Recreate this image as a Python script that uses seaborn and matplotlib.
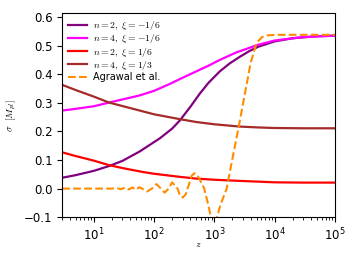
import numpy as np
import pandas as pd
import seaborn as sn
import matplotlib.pyplot as plt

plt.rcParams['mathtext.fontset'] = 'cm'

# 값은 그림에서 읽은 것
z_n2_m16 = [3, 5, 10, 18, 30, 58, 125, 200, 267, 400, 573, 800, 1230, 1800, 2640, 3800, 5300, 1e4, 2e4, 5e4, 1e5]
sig_n2_m16 = [0.038, 0.047, 0.062, 0.079, 0.097, 0.130, 0.176, 0.210, 0.238, 0.286, 0.332, 0.370, 0.410, 0.438, 0.461, 0.481, 0.496, 0.515, 0.526, 0.533, 0.535]

z_n4_m16 = [3, 5, 10, 18, 58, 100, 182, 267, 500, 800, 1230, 2290, 5300, 1e4, 2.9e4, 1e5]
sig_n4_m16 = [0.273, 0.279, 0.288, 0.301, 0.326, 0.342, 0.366, 0.383, 0.410, 0.430, 0.450, 0.476, 0.503, 0.518, 0.530, 0.535]

z_n2_p16 = [3, 5, 10, 18, 35, 66, 100, 247, 500, 1000, 2630, 1e4, 3e4, 1e5]
sig_n2_p16 = [0.127, 0.114, 0.098, 0.082, 0.069, 0.058, 0.052, 0.042, 0.035, 0.031, 0.027, 0.022, 0.021, 0.021]

z_n4_p13 = [3, 5, 10, 18, 58, 100, 267, 500, 1000, 2640, 5300, 1e4, 3e4, 1e5]
sig_n4_p13 = [0.363, 0.345, 0.322, 0.301, 0.273, 0.260, 0.243, 0.233, 0.225, 0.217, 0.214, 0.212, 0.211, 0.211]

z_agr = [3, 10, 20, 24, 28, 33, 38, 44, 50, 57, 66, 77, 92, 110, 130, 150, 175, 200, 245, 270, 300, 335,
         380, 420, 470, 520, 580, 680, 800, 880, 980, 1070, 1250, 1600, 2000, 2540, 3200, 4000, 5000, 6200,
         7300, 1.2e4, 3e4, 1e5]
sig_agr = [0.0, 0.0, 0.0, 0.002, -0.002, 0.003, -0.003, 0.004, -0.004, 0.005, -0.002, -0.010, 0.0, 0.016,
           0.0, -0.014, 0.0, 0.022, 0.0, -0.025, -0.031, -0.020, 0.015, 0.045, 0.054, 0.048, 0.030, 0.0,
           -0.060, -0.100, -0.130, -0.110, -0.060, 0.0, 0.106, 0.217, 0.330, 0.440, 0.510, 0.530,
           0.536, 0.538, 0.538, 0.538]

labels = [r'$n=2,\ \xi=-1/6$', r'$n=4,\ \xi=-1/6$', r'$n=2,\ \xi=1/6$', r'$n=4,\ \xi=1/3$']
colors = ['purple', 'magenta', 'red', 'brown']
xs = [z_n2_m16, z_n4_m16, z_n2_p16, z_n4_p13]
ys = [sig_n2_m16, sig_n4_m16, sig_n2_p16, sig_n4_p13]

fig = plt.figure(figsize=(3.53, 2.62), dpi=100)
ax = fig.add_axes([0.176, 0.171, 0.773, 0.778])

for x, y, lab, c in zip(xs, ys, labels, colors):
    sn.lineplot(x=x, y=y, ax=ax, color=c, label=lab, linewidth=1.6)
sn.lineplot(x=z_agr, y=sig_agr, ax=ax, color='darkorange', label='Agrawal et al.',
            linewidth=1.5, linestyle='--')

ax.set_xscale('log')
ax.set_xlim(3, 1e5)
ax.set_ylim(-0.1, 0.613)
ax.set_yticks([-0.1, 0.0, 0.1, 0.2, 0.3, 0.4, 0.5, 0.6])
ax.tick_params(labelsize=8.5)
ax.set_xlabel(r'$z$', fontsize=7, labelpad=-3)
ax.set_ylabel(r'$\sigma\ \ [M_{pl}]$', fontsize=7)
ax.legend(loc='upper left', frameon=False, fontsize=7, handlelength=2.0, handletextpad=0.6,
          labelspacing=0.02, borderaxespad=0.2)

plt.savefig('out.png', dpi=100)
